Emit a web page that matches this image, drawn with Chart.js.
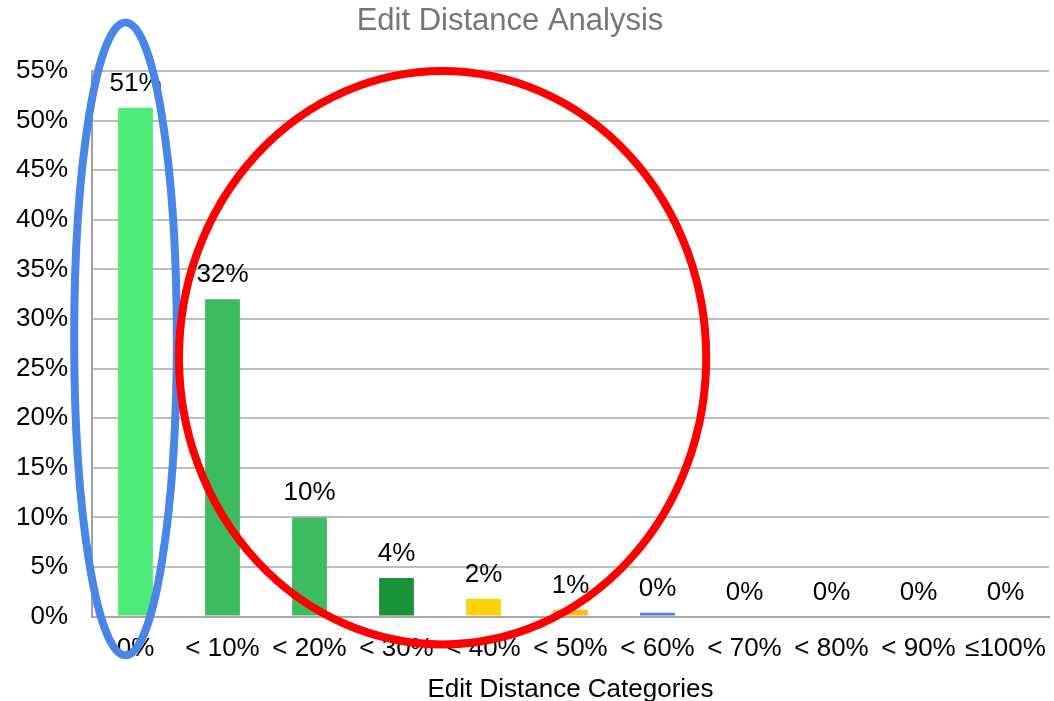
<!DOCTYPE html>
<html>
<head>
<meta charset="utf-8">
<script src="https://cdn.jsdelivr.net/npm/chart.js@4.4.1/dist/chart.umd.min.js"></script>
<style>
  html, body { margin: 0; padding: 0; background: #ffffff; }
  #wrap { width: 1054px; height: 701px; }
</style>
</head>
<body>
<div id="wrap"><canvas id="chart" width="1054" height="701"></canvas></div>
<script>
// Edit distance buckets and the share of samples in each (percent)
const categories = ['0%', '< 10%', '< 20%', '< 30%', '< 40%', '< 50%', '< 60%', '< 70%', '< 80%', '< 90%', '\u2264100%'];
const shares = [51.3, 32.0, 10.0, 3.9, 1.8, 0.7, 0.4, 0, 0, 0, 0];
const barColors = ['#4feb79', '#3dbb5f', '#3dbb5f', '#1a9238', '#fcd20a', '#f9c013', '#4a86e8', '#4a86e8', '#4a86e8', '#4a86e8', '#4a86e8'];
const yTickValues = [0, 5, 10, 15, 20, 25, 30, 35, 40, 45, 50, 55];

const FONT = "'Liberation Sans', Arial, sans-serif";

// Highlight rings, given in axis units (category index, percent)
const highlightRings = [
  { cx: -0.115, cy: 28.0, rx: 0.59, ry: 31.9, color: '#4a86e8' },
  { cx: 3.53, cy: 26.1, rx: 3.03, ry: 28.9, color: '#ff0000' }
];

const valueLabels = {
  id: 'valueLabels',
  afterDatasetsDraw(chart) {
    const ctx = chart.ctx;
    const meta = chart.getDatasetMeta(0);
    ctx.save();
    ctx.font = '26px ' + FONT;
    ctx.fillStyle = '#000000';
    ctx.textAlign = 'center';
    ctx.textBaseline = 'alphabetic';
    meta.data.forEach((bar, i) => {
      const v = chart.data.datasets[0].data[i];
      ctx.fillText(Math.round(v) + '%', bar.x, bar.y - 17);
    });
    ctx.restore();
  }
};

const rings = {
  id: 'rings',
  afterDraw(chart) {
    const ctx = chart.ctx;
    const xs = chart.scales.x, ys = chart.scales.y;
    const step = xs.getPixelForValue(1) - xs.getPixelForValue(0);
    ctx.save();
    highlightRings.forEach(r => {
      const px = xs.getPixelForValue(r.cx);
      const py = ys.getPixelForValue(r.cy);
      const rx = r.rx * step;
      const ry = ys.getPixelForValue(0) - ys.getPixelForValue(r.ry);
      ctx.beginPath();
      ctx.ellipse(px, py, rx, ry, 0, 0, Math.PI * 2);
      ctx.lineWidth = 8;
      ctx.strokeStyle = r.color;
      ctx.stroke();
    });
    ctx.restore();
  }
};

const headline = {
  id: 'headline',
  afterDraw(chart) {
    const ctx = chart.ctx;
    ctx.save();
    ctx.font = '31px ' + FONT;
    ctx.fillStyle = '#757575';
    ctx.textAlign = 'center';
    ctx.textBaseline = 'middle';
    ctx.fillText('Edit Distance Analysis', chart.width / 2 - 17, 21);
    ctx.restore();
  }
};

new Chart(document.getElementById('chart'), {
  type: 'bar',
  data: {
    labels: categories,
    datasets: [{
      data: shares,
      backgroundColor: barColors,
      borderWidth: 0,
      categoryPercentage: 1.0,
      barPercentage: 0.4
    }]
  },
  options: {
    responsive: false,
    animation: false,
    devicePixelRatio: 1,
    layout: { padding: { left: 16, right: 5, top: 71, bottom: -4 } },
    plugins: {
      legend: { display: false },
      title: { display: false },
      tooltip: { enabled: false }
    },
    scales: {
      x: {
        grid: { display: false, drawTicks: false },
        border: { display: true, color: '#a8a8a8', width: 2 },
        ticks: { color: '#000000', font: { family: FONT, size: 26 }, padding: 17, maxRotation: 0, autoSkip: false },
        title: { display: true, text: 'Edit Distance Categories', color: '#000000', font: { family: FONT, size: 26 }, padding: { top: -8, bottom: 0 } },
        afterFit(scale) { scale.paddingLeft = 0; scale.paddingRight = 0; }
      },
      y: {
        min: 0,
        max: 55,
        afterBuildTicks(axis) { axis.ticks = yTickValues.map(v => ({ value: v })); },
        grid: { color: '#bdbdbd', lineWidth: 2, drawTicks: false },
        border: { display: true, color: '#a0a0a0', width: 2 },
        ticks: { color: '#000000', font: { family: FONT, size: 26 }, padding: 24, callback: v => v + '%' },
        afterFit(scale) { scale.width = 76; scale.paddingTop = 0; scale.paddingBottom = 0; }
      }
    }
  },
  plugins: [valueLabels, rings, headline]
});
</script>
</body>
</html>
